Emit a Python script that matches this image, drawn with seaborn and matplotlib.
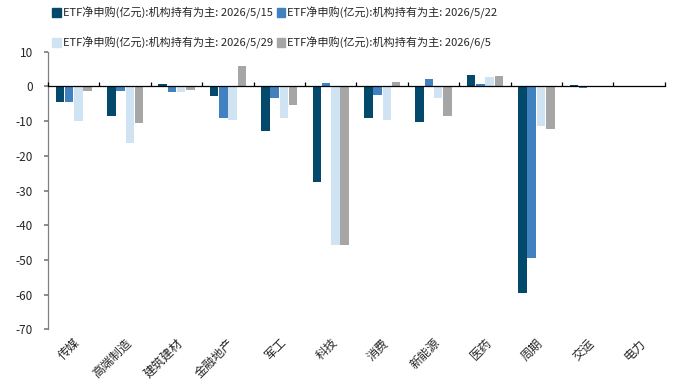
import numpy as np
import pandas as pd
import matplotlib
matplotlib.use("Agg")
import matplotlib.pyplot as plt
import seaborn as sns

sns.set_theme(style="white")
plt.rcParams["font.family"] = ["Noto Sans CJK SC", "DejaVu Sans"]
plt.rcParams["axes.unicode_minus"] = False

# 数据 (亿元)
categories = ["传媒", "高端制造", "建筑建材", "金融地产", "军工", "科技",
              "消费", "新能源", "医药", "周期", "交运", "电力"]
series_names = ["ETF净申购(亿元):机构持有为主: 2026/5/15",
                "ETF净申购(亿元):机构持有为主: 2026/5/22",
                "ETF净申购(亿元):机构持有为主: 2026/5/29",
                "ETF净申购(亿元):机构持有为主: 2026/6/5"]
w0515 = [-4.5, -8.5, 0.7, -2.7, -12.8, -27.4, -9.2, -10.2, 3.2, -59.6, 0.3, -0.3]
w0522 = [-4.5, -1.2, -1.6, -9.0, -3.2, 1.0, -2.5, 2.0, 0.6, -49.4, -0.4, -0.3]
w0529 = [-9.9, -16.3, -1.5, -9.8, -9.2, -45.8, -9.7, -3.4, 2.6, -11.5, -0.1, 0.0]
w0605 = [-1.3, -10.4, -1.0, 5.9, -5.4, -45.6, 1.4, -8.5, 2.9, -12.3, 0.0, -0.3]
colors = ["#02496C", "#4281C0", "#D0E3F3", "#A6A6A6"]

df = pd.DataFrame({
    "行业": categories * 4,
    "序列": np.repeat(series_names, len(categories)),
    "值": w0515 + w0522 + w0529 + w0605,
})

fig = plt.figure(figsize=(6.9, 3.83), dpi=100)
ax = fig.add_axes([0.0696, 0.140, 0.894, 0.725])

sns.barplot(data=df, x="行业", y="值", hue="序列", palette=colors,
            width=0.72, gap=0.08, ax=ax, legend=False, saturation=1,
            linewidth=0)

n = len(categories)
ax.set_xlim(-0.5, n - 0.5)
ax.set_ylim(-70, 10)
ax.set_yticks(np.arange(-70, 11, 10))
ax.set_xlabel("")
ax.set_ylabel("")

for s in ["top", "right", "bottom"]:
    ax.spines[s].set_visible(False)
ax.spines["left"].set_color("#808080")
ax.spines["left"].set_linewidth(0.9)
ax.tick_params(axis="y", direction="out", length=3, color="#808080",
               labelsize=8.5, pad=8, left=True)
ax.tick_params(axis="x", length=0, labelsize=8.8, pad=5)
plt.setp(ax.get_xticklabels(), rotation=45, ha="right", rotation_mode="anchor")

# 零轴与分隔刻度
ax_zero = ax.twiny()
ax_zero.set_xlim(ax.get_xlim())
for s in ["top", "right", "left"]:
    ax_zero.spines[s].set_visible(False)
ax_zero.spines["bottom"].set_position(("data", 0))
ax_zero.spines["bottom"].set_color("black")
ax_zero.spines["bottom"].set_linewidth(0.9)
ax_zero.xaxis.set_ticks_position("bottom")
ax_zero.set_xticks(np.arange(n + 1) - 0.5)
ax_zero.set_xticklabels([])
ax_zero.tick_params(axis="x", direction="in", length=3, color="black", width=0.9)

# 图例按行排列: 第一行 5/15, 5/22; 第二行 5/29, 6/5
handles = [plt.Rectangle((0, 0), 1, 1, color=c) for c in colors]
order = [0, 2, 1, 3]
fig.legend([handles[i] for i in order], [series_names[i] for i in order],
           loc="upper left", bbox_to_anchor=(0.066, 1.0),
           ncol=2, frameon=False, fontsize=8.0, handlelength=0.75, handleheight=0.75,
           handletextpad=0.2, columnspacing=0.35, labelspacing=1.6,
           borderaxespad=0.2)

fig.savefig("out.png", dpi=100)
